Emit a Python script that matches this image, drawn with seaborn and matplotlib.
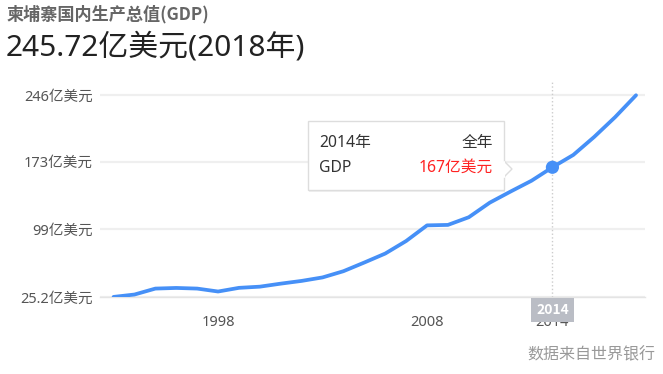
import seaborn as sns
import matplotlib.pyplot as plt
from matplotlib.patches import Rectangle, Polygon
import pandas as pd

# -----------------------------------------------------------
# Data: Cambodia GDP, 100 million USD
# -----------------------------------------------------------
years = list(range(1993, 2019))
gdp = [25.3, 27.9, 34.4, 35.1, 34.4, 31.2, 35.2, 36.5, 39.8, 42.8,
       46.6, 53.4, 62.9, 72.7, 86.4, 103.5, 104.0, 112.4, 128.3, 140.5,
       152.3, 167.0, 180.5, 200.2, 221.8, 245.7]
y_ticks = [25.2, 99, 173, 246]
x_ticks = [1998, 2008, 2014]
highlight_year = 2014

title = "柬埔寨国内生产总值(GDP)"
headline = "245.72亿美元(2018年)"
source = "数据来自世界银行"

df = pd.DataFrame({"year": years, "gdp": gdp})
hl_value = df.loc[df["year"] == highlight_year, "gdp"].iloc[0]

# -----------------------------------------------------------
# Style
# -----------------------------------------------------------
sns.set_style("white")
# latin glyphs from Noto Sans, chinese falls through to the CJK family
plt.rcParams["font.family"] = ["Noto Sans", "Noto Sans CJK SC", "DejaVu Sans"]
BOLD_FAMILY = ["Noto Sans CJK SC", "DejaVu Sans"]  # has a real bold weight

W, H = 663, 374
fig = plt.figure(figsize=(W / 100, H / 100), dpi=100)


def fx(x):
    return x / W


def fy(y):
    return 1 - y / H


ax = fig.add_axes([fx(100), fy(297), 545 / W, 215 / H])

# -----------------------------------------------------------
# Line + highlighted point
# -----------------------------------------------------------
sns.lineplot(data=df, x="year", y="gdp", ax=ax, color="#4690f7",
             linewidth=2.7, zorder=4)
ax.axvline(highlight_year, color="#cccccc", linestyle=":", linewidth=1, zorder=2)
ax.scatter([highlight_year], [hl_value], s=90, color="#4690f7", zorder=5,
           edgecolor="none")

ax.set_xlim(1992.35, 2018.43)
ax.set_ylim(25.2, 25.2 + 215 / 0.9149)

ax.set_yticks(y_ticks)
ax.set_yticklabels([f"{v:g}亿美元" for v in y_ticks])
ax.set_xticks(x_ticks)
ax.set_xticklabels([str(v) for v in x_ticks])
ax.tick_params(axis="y", length=0, pad=5, labelsize=10.5, labelcolor="#555555")
ax.tick_params(axis="x", length=0, pad=13, labelsize=10.5, labelcolor="#555555")
ax.set_xlabel("")
ax.set_ylabel("")

ax.yaxis.grid(True, color="#efefef", linewidth=1.6)
ax.xaxis.grid(False)
for s in ["top", "left", "right"]:
    ax.spines[s].set_visible(False)
ax.spines["bottom"].set_color("#e4e4e4")
ax.spines["bottom"].set_linewidth(1)

# year badge on the x axis
ax.text(highlight_year, -0.06, str(highlight_year), transform=ax.get_xaxis_transform(),
        ha="center", va="center", color="white", fontsize=10, fontweight="bold",
        family=BOLD_FAMILY,
        bbox=dict(boxstyle="square,pad=0.35", fc="#babdc5", ec="none"),
        clip_on=False, zorder=10)

# -----------------------------------------------------------
# Tooltip
# -----------------------------------------------------------
bx0, by0, bx1, by1 = 308, 121, 504, 190
fig.patches.append(Rectangle((fx(bx0 + 1), fy(by1 + 2)), (bx1 - bx0) / W, (by1 - by0) / H,
                             transform=fig.transFigure, fc="#000000", alpha=0.06,
                             ec="none", zorder=20))
fig.patches.append(Rectangle((fx(bx0), fy(by1)), (bx1 - bx0) / W, (by1 - by0) / H,
                             transform=fig.transFigure, fc="white", ec="#dddddd",
                             lw=1, zorder=21))
fig.patches.append(Polygon([(fx(bx1), fy(161)), (fx(bx1 + 8), fy(169)), (fx(bx1), fy(177))],
                           closed=False, transform=fig.transFigure, fc="white",
                           ec="#dddddd", lw=1, zorder=22))
fig.lines.append(plt.Line2D([fx(bx1), fx(bx1)], [fy(161.5), fy(176.5)],
                            transform=fig.transFigure, color="white", lw=1.5, zorder=23))

fig.text(fx(319), fy(143), f"{highlight_year}年", ha="left", va="center",
         fontsize=11.3, color="#333333", zorder=25)
fig.text(fx(493), fy(143), "全年", ha="right", va="center",
         fontsize=11.3, color="#333333", zorder=25)
fig.text(fx(319), fy(168), "GDP", ha="left", va="center",
         fontsize=11.3, color="#333333", zorder=25)
fig.text(fx(493), fy(168), f"{hl_value:.0f}亿美元", ha="right", va="center",
         fontsize=11.3, color="#ff2222", zorder=25)

# -----------------------------------------------------------
# Titles and source
# -----------------------------------------------------------
fig.text(fx(7), fy(14), title, ha="left", va="center", fontsize=12.3,
         fontweight="bold", color="#666666", family=BOLD_FAMILY)
fig.text(fx(6), fy(48), headline, ha="left", va="center", fontsize=21.5,
         color="#222222")
fig.text(fx(655), fy(355), source, ha="right", va="center", fontsize=11.5,
         color="#999999")

fig.savefig("out.png", dpi=100)
plt.close(fig)
